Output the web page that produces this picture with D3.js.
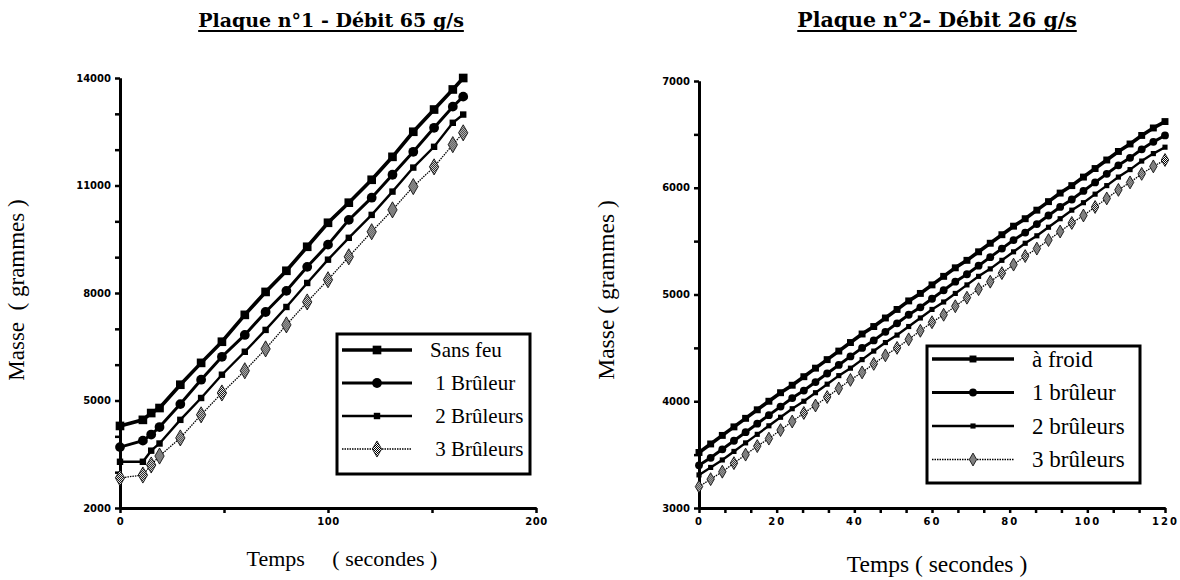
<!DOCTYPE html>
<html>
<head>
<meta charset="utf-8">
<script src="https://cdn.jsdelivr.net/npm/d3@7/dist/d3.min.js"></script>
<style>
    body { margin: 0; background: #fff; }
    .titre { font-family: "DejaVu Serif", serif; font-weight: bold; }
    .axe-titre { font-family: "Liberation Serif", "Times New Roman", serif; white-space: pre; }
    .legende text { font-family: "Liberation Serif", "Times New Roman", serif; white-space: pre; }
    .tick text { font-family: "DejaVu Sans", sans-serif; font-weight: bold; font-size: 10px; }
    .axe path.domain { stroke-width: 3; }
    .axe .tick line { stroke-width: 2.5; }
</style>
</head>
<body>
<div id="chart"></div>
<script>

// Plaque n°1 - débit 65 g/s
var temps1 = [0, 11, 15, 19, 29, 39, 49, 60, 70, 80, 90, 100, 110, 121, 131, 141, 151, 160, 165];
var sansFeu1 = [4290, 4460, 4650, 4790, 5440, 6050, 6640, 7390, 8030, 8620, 9290, 9960, 10520, 11160, 11800, 12500, 13120, 13680, 14000];
var unBruleur1 = [3700, 3880, 4050, 4260, 4900, 5580, 6220, 6830, 7470, 8060, 8730, 9350, 10040, 10660, 11300, 11940, 12610, 13200, 13480];
var deuxBruleurs1 = [3290, 3290, 3600, 3800, 4460, 5070, 5720, 6360, 6970, 7610, 8280, 8930, 9540, 10180, 10830, 11500, 12080, 12750, 12980];
var troisBruleurs1 = [2840, 2920, 3200, 3450, 3955, 4600, 5210, 5830, 6440, 7110, 7750, 8370, 9010, 9710, 10320, 10970, 11520, 12140, 12470];
var legende1 = ["Sans feu", " 1 Brûleur", " 2 Brûleurs", " 3 Brûleurs"];
var yTicks1 = [2000, 5000, 8000, 11000, 14000];
var xTicks1 = [0, 100, 200];

// Plaque n°2 - débit 26 g/s
var temps2 = [0, 3, 6, 9, 12, 15, 18, 21, 24, 27, 30, 33, 36, 39, 42, 45, 48, 51, 54, 57, 60,
    63, 66, 69, 72, 75, 78, 81, 84, 87, 90, 93, 96, 99, 102, 105, 108, 111, 114, 117, 120];
var aFroid2 = [3520, 3600, 3680, 3760, 3840, 3920, 4000, 4080, 4150, 4230, 4310, 4390, 4470, 4550, 4630, 4700, 4780, 4860, 4940, 5010, 5090,
    5170, 5250, 5320, 5400, 5480, 5560, 5640, 5710, 5790, 5870, 5950, 6020, 6100, 6180, 6260, 6340, 6410, 6490, 6560, 6620];
var unBruleur2 = [3400, 3470, 3550, 3630, 3710, 3790, 3870, 3950, 4030, 4100, 4180, 4260, 4340, 4420, 4500, 4570, 4650, 4730, 4810, 4880, 4960,
    5040, 5120, 5190, 5270, 5350, 5430, 5510, 5580, 5660, 5740, 5820, 5890, 5970, 6050, 6130, 6210, 6280, 6360, 6430, 6490];
var deuxBruleurs2 = [3310, 3380, 3450, 3530, 3610, 3690, 3770, 3850, 3930, 4000, 4080, 4160, 4240, 4310, 4390, 4470, 4550, 4620, 4700, 4780, 4860,
    4930, 5010, 5090, 5170, 5240, 5320, 5400, 5480, 5550, 5630, 5710, 5790, 5860, 5940, 6020, 6100, 6170, 6250, 6320, 6380];
var troisBruleurs2 = [3200, 3270, 3340, 3420, 3500, 3580, 3650, 3730, 3810, 3890, 3960, 4040, 4120, 4200, 4270, 4350, 4430, 4500, 4580, 4660, 4740,
    4810, 4890, 4970, 5050, 5120, 5200, 5280, 5360, 5430, 5510, 5590, 5670, 5740, 5820, 5900, 5980, 6050, 6130, 6200, 6260];
var legende2 = ["à froid", "1 brûleur", "2 brûleurs", "3 brûleurs"];
var yTicks2 = [3000, 4000, 5000, 6000, 7000];
var xTicks2 = [0, 20, 40, 60, 80, 100, 120];


// one style per series, same order in both plates
var styles = [
    { marker: d3.symbolSquare, width: 3.6, dash: null },
    { marker: d3.symbolCircle, width: 3, dash: null },
    { marker: d3.symbolSquare, width: 2.4, dash: null, petit: true },
    { marker: d3.symbolDiamond, width: 1.3, dash: "1.5,1", hachure: true }
];

var svg = d3.select("#chart").append("svg")
    .attr("width", 1180)
    .attr("height", 580);

// checker pattern for the 3 burners markers
var pat = svg.append("defs").append("pattern")
    .attr("id", "hachure")
    .attr("width", 2).attr("height", 2)
    .attr("patternUnits", "userSpaceOnUse");
pat.append("rect").attr("width", 2).attr("height", 2).attr("fill", "#fff");
pat.append("rect").attr("width", 1).attr("height", 1).attr("fill", "#000");
pat.append("rect").attr("x", 1).attr("y", 1).attr("width", 1).attr("height", 1).attr("fill", "#000");


/*
 * Plaque - one mass vs time plot
 */

Plaque = function(_svg, _config){
    this.svg = _svg;
    this.cfg = _config;
    this.initVis();
};

Plaque.prototype.initVis = function(){
    var vis = this;
    var c = vis.cfg;

    vis.x = d3.scaleLinear().domain(c.xDomain).range([c.left, c.right]);
    vis.y = d3.scaleLinear().domain(c.yDomain).range([c.bottom, c.top]);

    // title, underlined
    var t = vis.svg.append("text")
        .attr("class", "titre")
        .attr("x", c.titreX).attr("y", 27)
        .attr("text-anchor", "middle")
        .attr("font-size", c.titreSize)
        .text(c.titre);
    var w = t.node().getComputedTextLength();
    vis.svg.append("line")
        .attr("x1", c.titreX - w / 2).attr("x2", c.titreX + w / 2)
        .attr("y1", 31).attr("y2", 31)
        .attr("stroke", "#000").attr("stroke-width", 2);

    // minor ticks first, then labelled ticks
    vis.svg.append("g").attr("class", "axe")
        .attr("transform", "translate(0," + c.bottom + ")")
        .call(d3.axisBottom(vis.x).tickValues(c.xMinor).tickSize(5).tickSizeOuter(0).tickFormat(""));
    vis.svg.append("g").attr("class", "axe")
        .attr("transform", "translate(" + c.left + ",0)")
        .call(d3.axisLeft(vis.y).tickValues(c.yMinor).tickSize(5).tickSizeOuter(0).tickFormat(""));

    var gx = vis.svg.append("g").attr("class", "axe")
        .attr("transform", "translate(0," + c.bottom + ")")
        .call(d3.axisBottom(vis.x).tickValues(c.xTicks).tickSize(5).tickSizeOuter(0).tickPadding(5).tickFormat(d3.format("d")));
    gx.selectAll(".tick text").attr("letter-spacing", c.xSpacing);

    vis.svg.append("g").attr("class", "axe")
        .attr("transform", "translate(" + c.left + ",0)")
        .call(d3.axisLeft(vis.y).tickValues(c.yTicks).tickSize(5).tickSizeOuter(0).tickPadding(4).tickFormat(d3.format("d")));

    // axis titles
    vis.svg.append("text")
        .attr("class", "axe-titre")
        .attr("x", c.xTitreX).attr("y", c.xTitreY)
        .attr("text-anchor", "middle")
        .attr("font-size", c.axeSize)
        .text(c.xTitre);
    vis.svg.append("text")
        .attr("class", "axe-titre")
        .attr("transform", "translate(" + c.yTitreX + ",290) rotate(-90)")
        .attr("text-anchor", "middle")
        .attr("font-size", c.yAxeSize)
        .text(c.yTitre);

    vis.wrangleData();
};

Plaque.prototype.wrangleData = function(){
    var vis = this;
    var c = vis.cfg;

    vis.series = c.series.map(function(vals, i){
        return {
            style: styles[i],
            nom: c.noms[i],
            points: vals.map(function(v, j){ return { t: c.temps[j], m: v }; })
        };
    });

    vis.updateVis();
};

Plaque.prototype.drawMarker = function(sel, s){
    var vis = this;
    var size = s.style.petit ? vis.cfg.mSize * 0.55 : vis.cfg.mSize;
    sel.attr("d", d3.symbol().type(s.style.marker).size(size))
        .attr("fill", s.style.hachure ? "url(#hachure)" : "#000")
        .attr("stroke", "#000")
        .attr("stroke-width", s.style.hachure ? 0.8 : 0);
};

Plaque.prototype.updateVis = function(){
    var vis = this;
    var c = vis.cfg;

    var line = d3.line()
        .x(function(d){ return vis.x(d.t); })
        .y(function(d){ return vis.y(d.m); });

    // draw bottom series first so the heavy lines sit on top
    var groups = vis.svg.selectAll(".serie-" + c.id)
        .data(vis.series.slice().reverse())
        .enter().append("g")
        .attr("class", "serie-" + c.id);

    groups.append("path")
        .attr("d", function(d){ return line(d.points); })
        .attr("fill", "none")
        .attr("stroke", "#000")
        .attr("stroke-width", function(d){ return d.style.width; })
        .attr("stroke-dasharray", function(d){ return d.style.dash; });

    groups.each(function(s){
        d3.select(this).selectAll(".pt")
            .data(s.points)
            .enter().append("path")
            .attr("class", "pt")
            .attr("transform", function(d){ return "translate(" + vis.x(d.t) + "," + vis.y(d.m) + ")"; })
            .call(function(sel){ vis.drawMarker(sel, s); });
    });

    // legend
    var L = c.legende;
    var lg = vis.svg.append("g").attr("class", "legende");
    lg.append("rect")
        .attr("x", L.x).attr("y", L.y)
        .attr("width", L.w).attr("height", L.h)
        .attr("fill", "#fff").attr("stroke", "#000").attr("stroke-width", 3);

    var rows = lg.selectAll(".row")
        .data(vis.series)
        .enter().append("g")
        .attr("class", "row")
        .attr("transform", function(d, i){ return "translate(0," + (L.y0 + i * L.dy) + ")"; });

    rows.append("line")
        .attr("x1", L.x + 5).attr("x2", L.x + 5 + L.ligne)
        .attr("stroke", "#000")
        .attr("stroke-width", function(d){ return d.style.width; })
        .attr("stroke-dasharray", function(d){ return d.style.dash; });
    rows.append("path")
        .attr("transform", "translate(" + (L.x + 5 + L.ligne / 2) + ",0)")
        .each(function(s){ vis.drawMarker(d3.select(this), s); });
    rows.append("text")
        .attr("x", L.texteX).attr("y", 0)
        .attr("dy", "0.33em")
        .attr("font-size", L.size)
        .text(function(d){ return d.nom; });
};


new Plaque(svg, {
    id: 1,
    titre: "Plaque n°1 - Débit  65 g/s", titreX: 331, titreSize: 19,
    left: 120, right: 536, top: 78, bottom: 508,
    xDomain: [0, 200], yDomain: [2000, 14000],
    xTicks: xTicks1, xMinor: [50, 150], xSpacing: 0.5,
    yTicks: yTicks1, yMinor: [3000, 4000, 6000, 7000, 9000, 10000, 12000, 13000],
    xTitre: "Temps     ( secondes )", xTitreX: 342, xTitreY: 566,
    yTitre: "Masse  ( grammes )", yTitreX: 24, axeSize: 22, yAxeSize: 23,
    temps: temps1,
    series: [sansFeu1, unBruleur1, deuxBruleurs1, troisBruleurs1],
    noms: legende1, mSize: 75,
    legende: { x: 337, y: 334, w: 193, h: 140, y0: 350, dy: 33, ligne: 70, texteX: 430, size: 21 }
});

new Plaque(svg, {
    id: 2,
    titre: "Plaque n°2- Débit 26 g/s", titreX: 937, titreSize: 20.5,
    left: 699, right: 1165, top: 81, bottom: 508,
    xDomain: [0, 120], yDomain: [3000, 7000],
    xTicks: xTicks2, xMinor: [6.67, 13.33, 26.67, 33.33, 46.67, 53.33, 66.67, 73.33, 86.67, 93.33, 106.67, 113.33], xSpacing: 2,
    yTicks: yTicks2, yMinor: [3500, 4500, 5500, 6500],
    xTitre: "Temps ( secondes )", xTitreX: 937, xTitreY: 572,
    yTitre: "Masse ( grammes )", yTitreX: 614, axeSize: 23.5, yAxeSize: 23.5,
    temps: temps2,
    series: [aFroid2, unBruleur2, deuxBruleurs2, troisBruleurs2],
    noms: legende2, mSize: 48,
    legende: { x: 927, y: 346, w: 213, h: 137, y0: 359, dy: 33.5, ligne: 82, texteX: 1032, size: 23 }
});

</script>
</body>
</html>
